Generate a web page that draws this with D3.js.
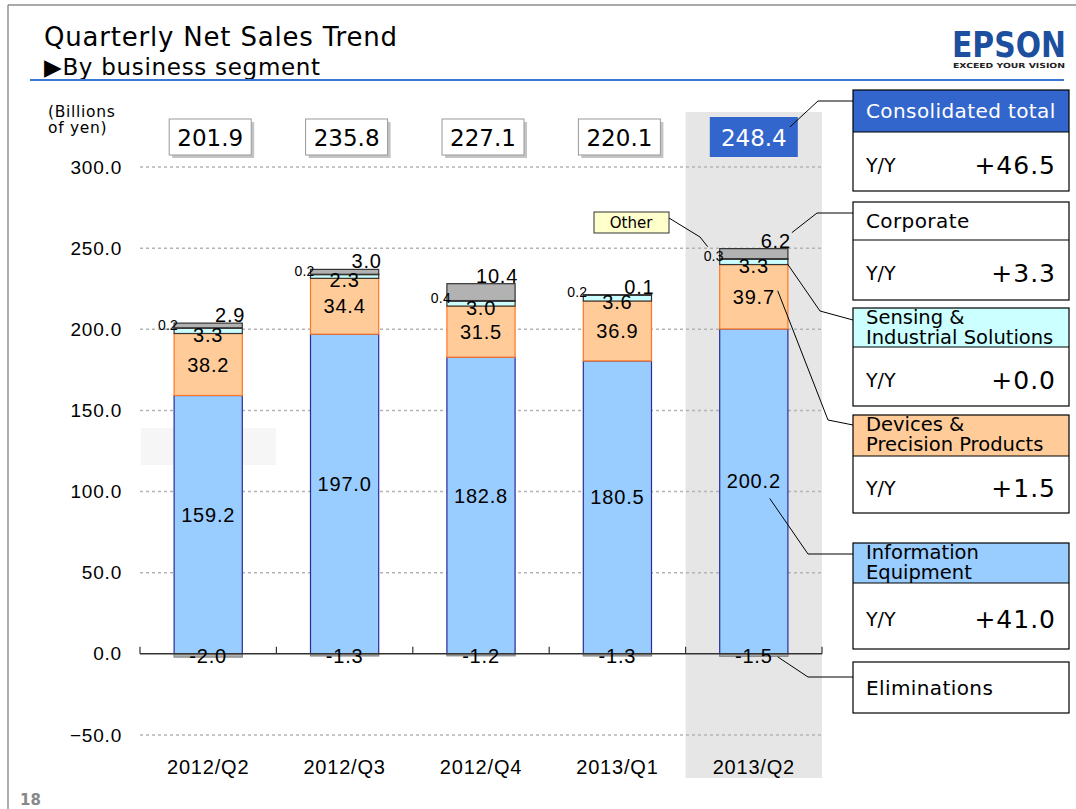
<!DOCTYPE html>
<html>
<head>
<meta charset="utf-8">
<script src="https://d3js.org/d3.v7.min.js"></script>
<style>
body { margin: 0; background: #fff; }
svg { display: block; }
.num { font-family: "Liberation Sans", Arial, sans-serif; fill: #000; letter-spacing: 0.8px; }
.gt { font-family: "DejaVu Sans", Verdana, sans-serif; fill: #000; }
</style>
</head>
<body>
<script>
// Quarterly net sales by segment, billions of yen
var quarters = ["2012/Q2", "2012/Q3", "2012/Q4", "2013/Q1", "2013/Q2"];
var infoEquipment = [159.2, 197.0, 182.8, 180.5, 200.2];
var devicesPrecision = [38.2, 34.4, 31.5, 36.9, 39.7];
var sensingIndustrial = [3.3, 2.3, 3.0, 3.6, 3.3];
var other = [0.2, 0.2, 0.4, 0.2, 0.3];
var corporate = [2.9, 3.0, 10.4, 0.1, 6.2];
var eliminations = [-2.0, -1.3, -1.2, -1.3, -1.5];
var totals = [201.9, 235.8, 227.1, 220.1, 248.4];
var yTicks = [-50, 0, 50, 100, 150, 200, 250, 300];

var legendNames = ["Consolidated total", "Corporate", "Sensing &|Industrial Solutions",
    "Devices &|Precision Products", "Information|Equipment", "Eliminations"];
var legendYoY = ["+46.5", "+3.3", "+0.0", "+1.5", "+41.0", null];

var keys = ["info", "devices", "sensing", "other", "corporate", "elim"];
var fills = { info: "#99ccff", devices: "#ffcc99", sensing: "#ccffff", other: "#ffffcc", corporate: "#b2b2b2", elim: "#b2b2b2" };
var strokes = { info: "#2b2b99", devices: "#ff7722", sensing: "#333", other: "#333", corporate: "#333", elim: "#888" };

var W = 1076, H = 809;
var svg = d3.select("body").append("svg").attr("width", W).attr("height", H);

// frame + header
svg.append("line").attr("x1", 8).attr("x2", W).attr("y1", 5).attr("y2", 5).attr("stroke", "#555").attr("stroke-width", 1.2);
svg.append("line").attr("x1", 8).attr("x2", 8).attr("y1", 5).attr("y2", H).attr("stroke", "#777").attr("stroke-width", 1.2);
svg.append("text").attr("class", "gt").attr("x", 44).attr("y", 46).style("font-size", "26px").style("letter-spacing", "0.8px")
    .text("Quarterly Net Sales Trend");
svg.append("text").attr("class", "gt").attr("x", 44).attr("y", 75).style("font-size", "23px").style("letter-spacing", "0.7px")
    .text("\u25B6By business segment");
svg.append("line").attr("x1", 30).attr("x2", 1064).attr("y1", 80).attr("y2", 80).attr("stroke", "#3a78d8").attr("stroke-width", 2);
svg.append("text").attr("x", 952).attr("y", 57).attr("textLength", 114).attr("lengthAdjust", "spacingAndGlyphs")
    .style("font-family", "'DejaVu Sans', sans-serif").style("font-weight", "bold").style("font-size", "35px")
    .attr("fill", "#1d4f9f").text("EPSON");
svg.append("text").attr("x", 953).attr("y", 68).attr("textLength", 112).attr("lengthAdjust", "spacingAndGlyphs")
    .style("font-family", "'DejaVu Sans', sans-serif").style("font-weight", "bold").style("font-size", "7px")
    .attr("fill", "#222").text("EXCEED YOUR VISION");
svg.append("text").attr("x", 20).attr("y", 805).style("font-family", "'DejaVu Sans', sans-serif")
    .style("font-weight", "bold").style("font-size", "15px").attr("fill", "#888").text("18");

// scales
var x = d3.scaleBand().domain(quarters).range([140, 822]).paddingInner(0.5).paddingOuter(0.25);
var y = d3.scaleLinear().domain([-50, 300]).range([735, 167]);
var bw = x.bandwidth(), step = x.step();

// highlight band for latest quarter
var last = quarters[quarters.length - 1];
svg.append("rect").attr("x", x(last) - step * 0.25).attr("y", 112)
    .attr("width", 822 - (x(last) - step * 0.25)).attr("height", 666).attr("fill", "#e6e6e6");
svg.append("rect").attr("x", 141).attr("y", 428).attr("width", 135).attr("height", 37).attr("fill", "#f6f6f6");

// grid
svg.append("g").selectAll("line").data(yTicks.filter(function(d) { return d !== 0; })).join("line")
    .attr("x1", 140).attr("x2", 822).attr("y1", function(d) { return y(d); }).attr("y2", function(d) { return y(d); })
    .attr("stroke", "#b4b4b4").attr("stroke-width", 1.5).attr("stroke-dasharray", "3,3");

var yAxis = svg.append("g").attr("transform", "translate(140,0)")
    .call(d3.axisLeft(y).tickValues(yTicks).tickFormat(d3.format(".1f")).tickSize(0).tickPadding(18));
yAxis.select(".domain").remove();
yAxis.selectAll("text").attr("class", "num").style("font-size", "19px");

svg.append("text").attr("class", "gt").attr("x", 48).attr("y", 117).style("font-size", "15.5px").style("letter-spacing", "0.7px").text("(Billions");
svg.append("text").attr("class", "gt").attr("x", 48).attr("y", 133).style("font-size", "15.5px").style("letter-spacing", "0.7px").text("of yen)");

// stacked bars
var rows = quarters.map(function(q, i) {
    return { quarter: q, info: infoEquipment[i], devices: devicesPrecision[i], sensing: sensingIndustrial[i],
        other: other[i], corporate: corporate[i], elim: eliminations[i] };
});
var series = d3.stack().keys(keys).offset(d3.stackOffsetDiverging)(rows);

var layers = svg.append("g").selectAll("g").data(series).join("g")
    .attr("fill", function(s) { return fills[s.key]; })
    .attr("stroke", function(s) { return strokes[s.key]; })
    .attr("stroke-width", 1.2);
layers.selectAll("rect").data(function(s) { return s; }).join("rect")
    .attr("x", function(d) { return x(d.data.quarter); })
    .attr("width", bw)
    .attr("y", function(d) { return y(Math.max(d[0], d[1])); })
    .attr("height", function(d) { return Math.abs(y(d[0]) - y(d[1])); });

// x axis line at zero
var bounds = quarters.map(function(q) { return x(q) - step * 0.25; }).concat([822]);
svg.append("line").attr("x1", 140).attr("x2", 822).attr("y1", y(0)).attr("y2", y(0)).attr("stroke", "#333").attr("stroke-width", 1.5);
svg.append("g").selectAll("line").data(bounds).join("line")
    .attr("x1", function(d) { return d; }).attr("x2", function(d) { return d; })
    .attr("y1", y(0)).attr("y2", y(0) - 7).attr("stroke", "#333").attr("stroke-width", 1.2);

var xAxis = svg.append("g").attr("transform", "translate(0,760)").call(d3.axisBottom(x).tickSize(0).tickPadding(0));
xAxis.select(".domain").remove();
xAxis.selectAll("text").attr("class", "num").style("font-size", "20px");

// segment labels
function seg(key) { return series.filter(function(s) { return s.key === key; })[0]; }
var labels = svg.append("g");
function mid(d) { return (y(d[0]) + y(d[1])) / 2; }

labels.selectAll(".lInfo").data(seg("info")).join("text").attr("class", "num")
    .attr("x", function(d) { return x(d.data.quarter) + bw / 2; }).attr("y", function(d) { return mid(d) - 10; })
    .attr("dy", "0.35em").attr("text-anchor", "middle").style("font-size", "20px")
    .text(function(d) { return d.data.info.toFixed(1); });
labels.selectAll(".lDev").data(seg("devices")).join("text").attr("class", "num")
    .attr("x", function(d) { return x(d.data.quarter) + bw / 2; }).attr("y", function(d) { return mid(d); })
    .attr("dy", "0.35em").attr("text-anchor", "middle").style("font-size", "20px")
    .text(function(d) { return d.data.devices.toFixed(1); });
labels.selectAll(".lSen").data(seg("sensing")).join("text").attr("class", "num")
    .attr("x", function(d) { return x(d.data.quarter) + bw / 2; }).attr("y", function(d) { return mid(d) + 4; })
    .attr("dy", "0.35em").attr("text-anchor", "middle").style("font-size", "20px")
    .text(function(d) { return d.data.sensing.toFixed(1); });
labels.selectAll(".lOth").data(seg("other")).join("text").attr("class", "num")
    .attr("x", function(d) { return x(d.data.quarter) + 4; }).attr("y", function(d) { return mid(d) - 3; })
    .attr("dy", "0.35em").attr("text-anchor", "end").style("font-size", "14px").style("letter-spacing", "0.2px")
    .text(function(d) { return d.data.other.toFixed(1); });
labels.selectAll(".lCorp").data(seg("corporate")).join("text").attr("class", "num")
    .attr("x", function(d) { return x(d.data.quarter) + bw + 3; }).attr("y", function(d) { return y(d[1]) - 1; })
    .attr("text-anchor", "end").style("font-size", "20px")
    .text(function(d) { return d.data.corporate.toFixed(1); });
labels.selectAll(".lElim").data(seg("elim")).join("text").attr("class", "num")
    .attr("x", function(d) { return x(d.data.quarter) + bw / 2; }).attr("y", y(0) + 2)
    .attr("dy", "0.35em").attr("text-anchor", "middle").style("font-size", "20px")
    .text(function(d) { return d.data.elim.toFixed(1); });

// total boxes
var tot = svg.append("g").selectAll("g").data(totals).join("g")
    .attr("transform", function(d, i) { return "translate(" + (x(quarters[i]) + bw / 2 + 2) + ",0)"; });
tot.filter(function(d, i) { return i < totals.length - 1; }).each(function(d) {
    var g = d3.select(this);
    g.append("rect").attr("x", -41 + 3).attr("y", 122).attr("width", 82).attr("height", 36).attr("fill", "#c4c4c4");
    g.append("rect").attr("x", -41).attr("y", 119).attr("width", 82).attr("height", 36).attr("fill", "#fff").attr("stroke", "#999");
    g.append("text").attr("class", "gt").attr("y", 146).attr("text-anchor", "middle").style("font-size", "23px").text(d.toFixed(1));
});
tot.filter(function(d, i) { return i === totals.length - 1; }).each(function(d) {
    var g = d3.select(this);
    g.append("rect").attr("x", -46).attr("y", 117).attr("width", 88).attr("height", 40).attr("fill", "#3366cc");
    g.append("text").attr("class", "gt").attr("x", -2).attr("y", 146).attr("text-anchor", "middle")
        .style("font-size", "23px").style("fill", "#fff").text(d.toFixed(1));
});

// "Other" tag
svg.append("rect").attr("x", 594).attr("y", 212).attr("width", 75).attr("height", 21).attr("fill", "#ffffcc").attr("stroke", "#333");
svg.append("text").attr("class", "gt").attr("x", 631).attr("y", 228).attr("text-anchor", "middle").style("font-size", "15px").text("Other");

// legend boxes
var boxes = [
    { top: 90, head: 132, bottom: 191, fill: "#3366cc", color: "#fff" },
    { top: 202, head: 240, bottom: 300, fill: "#fff", color: "#000" },
    { top: 308, head: 347, bottom: 406, fill: "#ccffff", color: "#000" },
    { top: 415, head: 456, bottom: 513, fill: "#ffcc99", color: "#000" },
    { top: 543, head: 583, bottom: 649, fill: "#99ccff", color: "#000" },
    { top: 662, head: 713, bottom: 713, fill: "#fff", color: "#000" }
];
var bx = 853, bwid = 216;
boxes.forEach(function(b, i) {
    var g = svg.append("g");
    g.append("rect").attr("x", bx).attr("y", b.top).attr("width", bwid).attr("height", b.head - b.top).attr("fill", b.fill);
    var lines = legendNames[i].split("|");
    if (lines.length === 1) {
        g.append("text").attr("class", "gt").attr("x", 866).attr("y", (b.top + b.head) / 2 + 7)
            .style("font-size", "20px").style("letter-spacing", "0.4px").style("fill", b.color).text(lines[0]);
    } else {
        lines.forEach(function(t, j) {
            g.append("text").attr("class", "gt").attr("x", 866).attr("y", b.top + 16 + j * 19.5)
                .style("font-size", "19.5px").style("fill", b.color).text(t);
        });
    }
    if (legendYoY[i]) {
        g.append("rect").attr("x", bx).attr("y", b.head).attr("width", bwid).attr("height", b.bottom - b.head).attr("fill", "#fff");
        g.append("line").attr("x1", bx).attr("x2", bx + bwid).attr("y1", b.head).attr("y2", b.head).attr("stroke", "#000").attr("stroke-width", 1.2);
        var cy = (b.head + b.bottom) / 2 + 3;
        g.append("text").attr("class", "gt").attr("x", 866).attr("y", cy + 7).style("font-size", "19px").text("Y/Y");
        g.append("text").attr("class", "gt").attr("x", 1056).attr("y", cy + 9).attr("text-anchor", "end")
            .style("font-size", "25px").style("letter-spacing", "1px").text(legendYoY[i]);
    }
    g.append("rect").attr("x", bx).attr("y", b.top).attr("width", bwid).attr("height", b.bottom - b.top)
        .attr("fill", "none").attr("stroke", "#000").attr("stroke-width", 1.2);
});

// callouts from latest bar to legend boxes
var lastStack = {};
series.forEach(function(s) { lastStack[s.key] = s[s.length - 1]; });
var xr = x(last) + bw, xl = x(last);
var callouts = [
    [[bx, 101], [818, 101], [xr + 2, 127]],
    [[bx, 213], [817, 213], [xr + 4, y(lastStack.corporate[1]) - 16]],
    [[bx, 320], [820, 311], [xr, y(lastStack.sensing[0])]],
    [[bx, 425], [828, 420], [xl + 58, mid(lastStack.devices) - 6]],
    [[bx, 554], [808, 554], [xl + 50, mid(lastStack.info) + 7]],
    [[bx, 677], [808, 677], [xl + 58, y(lastStack.elim[1]) + 3]],
    [[669, 218], [700, 237], [xl - 12, y(lastStack.other[1]) - 12]]
];
svg.append("g").selectAll("path").data(callouts).join("path")
    .attr("d", d3.line()).attr("fill", "none").attr("stroke", "#000").attr("stroke-width", 1);
</script>
</body>
</html>
